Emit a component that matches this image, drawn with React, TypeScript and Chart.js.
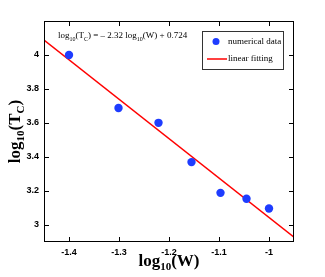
import React, { useEffect, useRef } from 'react';
import { Chart, registerables } from 'chart.js';
Chart.register(...registerables);

const xData = [-1.4, -1.301, -1.221, -1.155, -1.097, -1.045, -1.0];
const yData = [4.0, 3.688, 3.601, 3.37, 3.189, 3.154, 3.097];
const fitX = [-1.45, -0.95];
const fitY = [4.088, 2.928];
const xTicks = [-1.4, -1.3, -1.2, -1.1, -1];
const yTicks = [3, 3.2, 3.4, 3.6, 3.8, 4];
const seriesNames = ['numerical data', 'linear fitting'];

type Part = { t: string; sub?: boolean };

function partsWidth(ctx: CanvasRenderingContext2D, parts: Part[], font: string, subFont: string) {
  let w = 0;
  for (const p of parts) {
    ctx.font = p.sub ? subFont : font;
    w += ctx.measureText(p.t).width;
  }
  return w;
}

function drawParts(ctx: CanvasRenderingContext2D, x: number, y: number, parts: Part[], font: string, subFont: string, subDy: number) {
  let cx = x;
  ctx.textBaseline = 'alphabetic';
  ctx.textAlign = 'left';
  for (const p of parts) {
    ctx.font = p.sub ? subFont : font;
    ctx.fillText(p.t, cx, p.sub ? y + subDy : y);
    cx += ctx.measureText(p.t).width;
  }
}

const decor = {
  id: 'decor',
  afterDraw(chart: any) {
    const { ctx, chartArea: a, scales } = chart;
    ctx.save();
    ctx.fillStyle = '#000';
    const L = Math.round(a.left);
    const R = Math.round(a.right) - 1;
    const T = Math.round(a.top);
    const B = Math.round(a.bottom) - 1;
    ctx.fillRect(L, T, R - L + 1, 1);
    ctx.fillRect(L, B, R - L + 1, 1);
    ctx.fillRect(L, T, 1, B - T + 1);
    ctx.fillRect(R, T, 1, B - T + 1);
    const tl = 4;
    for (const v of xTicks) {
      const px = Math.round(scales.x.getPixelForValue(v));
      ctx.fillRect(px, B - tl, 1, tl);
      ctx.fillRect(px, T + 1, 1, tl);
    }
    for (const v of yTicks) {
      const py = Math.round(scales.y.getPixelForValue(v));
      ctx.fillRect(L + 1, py, tl, 1);
      ctx.fillRect(R - tl, py, tl, 1);
    }

    // equation
    const eParts: Part[] = [
      { t: 'log' }, { t: '10', sub: true }, { t: '(T' }, { t: 'C', sub: true },
      { t: ') = \u2013 2.32 log' }, { t: '10', sub: true }, { t: '(W) + 0.724' },
    ];
    const ef = '9px "Liberation Serif"';
    const esf = '6px "Liberation Serif"';
    drawParts(ctx, 58, 38, eParts, ef, esf, 3);

    // legend
    const lx = 202, ly = 31, lw = 81, lh = 38;
    ctx.fillStyle = '#fff';
    ctx.fillRect(lx, ly, lw, lh);
    ctx.fillStyle = '#333';
    ctx.fillRect(lx, ly, lw + 1, 1);
    ctx.fillRect(lx, ly + lh, lw + 1, 1);
    ctx.fillRect(lx, ly, 1, lh + 1);
    ctx.fillRect(lx + lw, ly, 1, lh + 1);
    ctx.fillStyle = 'rgb(30,60,255)';
    ctx.beginPath();
    ctx.arc(216, 41.5, 3.5, 0, Math.PI * 2);
    ctx.fill();
    ctx.strokeStyle = 'rgb(255,0,0)';
    ctx.lineWidth = 1.5;
    ctx.beginPath();
    ctx.moveTo(207, 59); ctx.lineTo(227, 59);
    ctx.stroke();
    ctx.fillStyle = '#000';
    ctx.font = '9px "Liberation Serif"';
    ctx.textBaseline = 'middle';
    ctx.fillText(seriesNames[0], 228, 42);
    ctx.fillText(seriesNames[1], 228, 59);

    // axis titles
    const tf = 'bold 17px "Liberation Serif"';
    const tsf = 'bold 11px "Liberation Serif"';
    const xParts: Part[] = [{ t: 'log' }, { t: '10', sub: true }, { t: '(W)' }];
    const xw = partsWidth(ctx, xParts, tf, tsf);
    ctx.fillStyle = '#000';
    drawParts(ctx, (a.left + a.right) / 2 - xw / 2, 266, xParts, tf, tsf, 4);
    const yParts: Part[] = [{ t: 'log' }, { t: '10', sub: true }, { t: '(T' }, { t: 'C', sub: true }, { t: ')' }];
    const yw = partsWidth(ctx, yParts, tf, tsf);
    ctx.translate(20, (a.top + a.bottom) / 2);
    ctx.rotate(-Math.PI / 2);
    drawParts(ctx, -yw / 2, 0, yParts, tf, tsf, 4);
    ctx.restore();
  },
};

export default function App() {
  const ref = useRef<HTMLCanvasElement>(null);
  useEffect(() => {
    const chart = new Chart(ref.current!, {
      type: 'scatter',
      data: {
        datasets: [
          {
            label: seriesNames[0],
            data: xData.map((x, i) => ({ x, y: yData[i] })),
            backgroundColor: 'rgb(30,60,255)',
            borderColor: 'rgb(30,60,255)',
            borderWidth: 0,
            pointRadius: 4.2,
            order: 1,
          },
          {
            type: 'line',
            label: seriesNames[1],
            data: fitX.map((x, i) => ({ x, y: fitY[i] })),
            borderColor: 'rgb(255,0,0)',
            borderWidth: 1.5,
            pointRadius: 0,
            showLine: true,
            fill: false,
            order: 2,
          } as any,
        ],
      },
      options: {
        animation: false,
        responsive: false,
        events: [],
        layout: { padding: { top: 21, right: 31, left: 0, bottom: 0 } },
        plugins: { legend: { display: false }, tooltip: { enabled: false } },
        scales: {
          x: {
            type: 'linear',
            min: -1.45,
            max: -0.95,
            grid: { display: false, drawTicks: false },
            border: { display: false },
            afterBuildTicks: (s: any) => { s.ticks = xTicks.map((v) => ({ value: v })); },
            afterFit: (s: any) => { s.height = 35; },
            ticks: {
              padding: 5,
              color: '#000',
              font: { family: '"Liberation Sans"', size: 9, weight: 'bold' },
              callback: (v: any) => String(Number(v)),
              maxRotation: 0,
            },
          },
          y: {
            type: 'linear',
            min: 2.9,
            max: 4.2,
            grid: { display: false, drawTicks: false },
            border: { display: false },
            afterBuildTicks: (s: any) => { s.ticks = yTicks.map((v) => ({ value: v })); },
            afterFit: (s: any) => { s.width = 44; },
            ticks: {
              padding: 5,
              color: '#000',
              font: { family: '"Liberation Sans"', size: 9, weight: 'bold' },
              callback: (v: any) => String(Number(v)),
            },
          },
        },
      },
      plugins: [decor],
    });
    return () => chart.destroy();
  }, []);
  return (
    <div style={{ position: 'fixed', left: 0, top: 0, width: 325, height: 277, background: '#fff' }}>
      <canvas ref={ref} width={325} height={277} style={{ width: 325, height: 277 }} />
    </div>
  );
}
